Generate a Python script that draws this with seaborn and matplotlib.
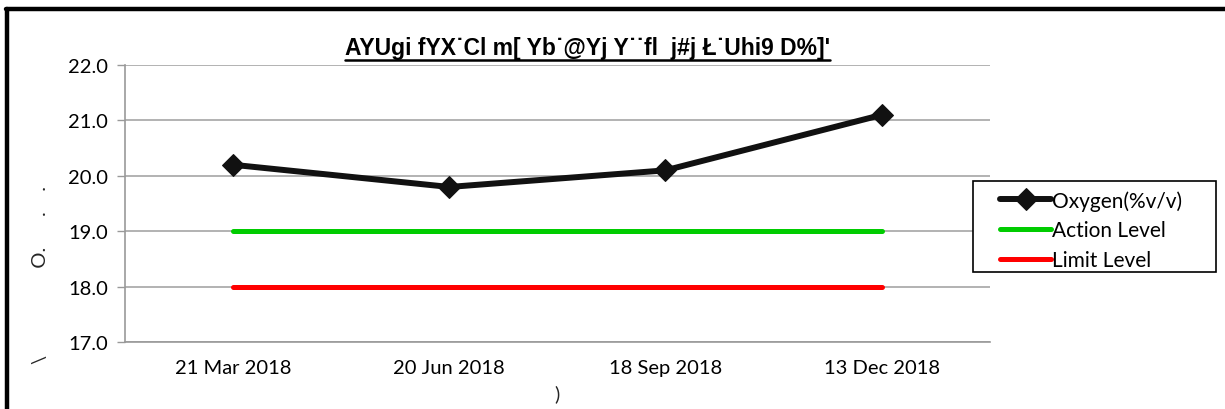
import pandas as pd
import matplotlib
matplotlib.use("Agg")
import matplotlib.pyplot as plt
from matplotlib.lines import Line2D
from matplotlib.patches import Rectangle
from matplotlib.ticker import FixedLocator
import seaborn as sns

sns.set_theme(style="white")
plt.rcParams["font.family"] = ["Lato", "DejaVu Sans"]
plt.rcParams["text.color"] = "black"
plt.rcParams["xtick.color"] = "black"
plt.rcParams["ytick.color"] = "black"

# data
dates = ["21 Mar 2018", "20 Jun 2018", "18 Sep 2018", "13 Dec 2018"]
oxygen = [20.2, 19.8, 20.1, 21.1]
action_level = [19.0, 19.0, 19.0, 19.0]
limit_level = [18.0, 18.0, 18.0, 18.0]
y_ticks = [17.0, 18.0, 19.0, 20.0, 21.0, 22.0]

title = "AYUgi fYX˙Cl m[ Yb˙@Yj Y˙˙fl  j#j Ł˙Uhi9 D%]'"

df = pd.DataFrame({"date": dates, "oxygen": oxygen,
                   "action": action_level, "limit": limit_level})

fig = plt.figure(figsize=(12.25, 4.1), dpi=100)
ax = fig.add_axes([0.102, 0.163, 0.706, 0.676])

sns.lineplot(data=df, x="date", y="action", ax=ax, color="#00cc00",
             linewidth=3.6, label="Action Level", sort=False)
sns.lineplot(data=df, x="date", y="limit", ax=ax, color="#ff0000",
             linewidth=3.6, label="Limit Level", sort=False)
sns.lineplot(data=df, x="date", y="oxygen", ax=ax, color="#111111",
             linewidth=4.3, marker="D", markersize=11, markeredgecolor="#111111",
             label="Oxygen(%v/v)", sort=False)

ax.set_xlim(-0.5, 3.5)
ax.set_ylim(17, 22)
ax.set_yticks(y_ticks)
ax.set_yticklabels([f"{v:.1f}" for v in y_ticks])
ax.set_xticks(range(len(dates)))
ax.set_xticklabels(dates)
ax.xaxis.set_minor_locator(FixedLocator([i - 0.5 for i in range(len(dates) + 1)]))

ax.tick_params(axis="x", which="major", length=0, pad=12, labelsize=14.5)
ax.tick_params(axis="x", which="minor", length=6, color="#999999", width=1)
ax.tick_params(axis="y", length=6, color="#999999", width=1, left=True,
               labelsize=14.5, pad=6)
ax.grid(axis="y", color="#a6a6a6", linewidth=1.2)
ax.grid(axis="x", visible=False)
for side in ["top", "right"]:
    ax.spines[side].set_visible(False)
for side in ["left", "bottom"]:
    ax.spines[side].set_color("#999999")
    ax.spines[side].set_linewidth(1.2)

ax.set_title(title, fontsize=16.5, fontweight="bold", x=0.535,
             family=["Liberation Sans", "DejaVu Sans"], pad=8)
t = ax.title
ax.set_xlabel(")", fontsize=14.5, labelpad=6)
ax.set_ylabel("\\" + " " * 17 + "O." + " " * 6 + "." + " " * 4 + ".", fontsize=14.5)
ax.yaxis.set_label_coords(-0.088, 0.245)

# legend: oxygen first, frame drawn separately as a white box
handles, labels = ax.get_legend_handles_labels()
order = [2, 0, 1]
leg = ax.legend([handles[i] for i in order], [labels[i] for i in order],
                loc="upper left", bbox_to_anchor=(1000 / 1225, 1 - 191 / 410),
                bbox_transform=fig.transFigure, fontsize=15, frameon=False,
                handlelength=2.45, handletextpad=0.05,
                labelspacing=0.47, borderpad=0, borderaxespad=0)
ax.add_patch(Rectangle((973 / 1225, 1 - 273 / 410), 243 / 1225, 91 / 410,
                       transform=fig.transFigure, clip_on=False, facecolor="white",
                       edgecolor="black", linewidth=1.2, zorder=4))
leg.set_zorder(5)

# underline title
fig.canvas.draw()
bb = t.get_window_extent()
fig.add_artist(Line2D([bb.x0 / fig.bbox.width, bb.x1 / fig.bbox.width],
                      [(bb.y0 - 1) / fig.bbox.height] * 2,
                      transform=fig.transFigure, color="black", linewidth=1.8))

# outer chart frame (top and left edges visible)
fig.add_artist(Line2D([0.005, 1.0], [0.976, 0.976], transform=fig.transFigure,
                      color="black", linewidth=3.2))
fig.add_artist(Line2D([0.0057, 0.0057], [0.0, 0.976], transform=fig.transFigure,
                      color="black", linewidth=3.2))

fig.savefig("out.png", dpi=100)
